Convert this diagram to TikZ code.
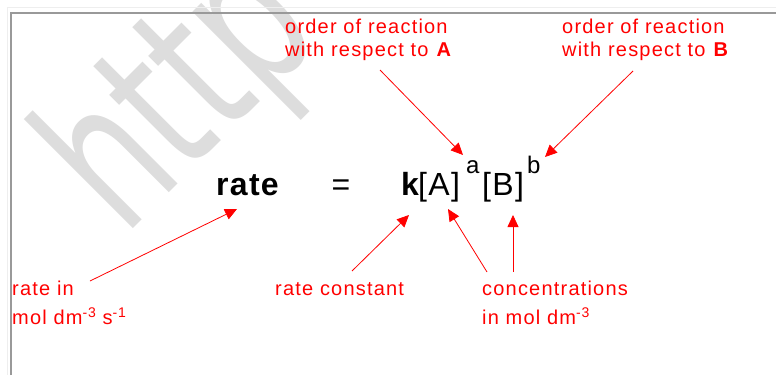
\documentclass[tikz,border=0pt]{standalone}
\usepackage{fontspec}
\setmainfont{Liberation Sans}
\newfontfamily\redfont[LetterSpace=6]{Liberation Sans}
\newfontfamily\eqfont[LetterSpace=4]{Liberation Sans}
\newfontfamily\wmfont{DejaVu Sans}
\usetikzlibrary{arrows.meta}
\definecolor{wmgray}{HTML}{DDDDDD}
\definecolor{outergray}{HTML}{EEEEEE}
\definecolor{framegray}{HTML}{999999}
\newcommand{\supx}[1]{\raisebox{7pt}{\fontsize{14}{14}\selectfont #1}}
\tikzset{
  lbl/.style={text=red, font=\redfont\fontsize{20}{24}\selectfont, inner sep=0pt, anchor=base west},
  eqtxt/.style={text=black, font=\eqfont\fontsize{32}{36}\selectfont, inner sep=0pt, anchor=base west},
  eqsup/.style={text=black, font=\eqfont\fontsize{24}{28}\selectfont, inner sep=0pt, anchor=base west},
  pointer/.style={draw=red, line width=0.8pt, -{Triangle[length=12pt,width=11pt]}},
}
\begin{document}
\begin{tikzpicture}[x=1pt,y=-1pt]
\useasboundingbox (0,0) rectangle (776,375);
\fill[white] (0,0) rectangle (776,375);
% watermark
\begin{scope}
\clip (0,0) rectangle (776,375);
\begin{scope}[shift={(124,238)}, rotate=45, xscale=0.68]
\node[transform shape, anchor=base west, inner sep=0pt, text=wmgray,
      font=\wmfont\fontsize{203}{203}\selectfont] (wm) at (0,0) {http};
\end{scope}
\end{scope}
% frame
\draw[outergray, line width=1.5pt] (7.5,375) -- (7.5,7.5) -- (776,7.5);
\draw[framegray, line width=1.3pt] (11,375) -- (11,13) -- (776,13);
% equation
\node[eqtxt, font=\eqfont\bfseries\fontsize{32}{36}\selectfont] (rate) at (216,195) {rate};
\node[eqtxt, anchor=base] (eqs) at (341,195) {=};
\node[eqtxt, font=\eqfont\bfseries\fontsize{32}{36}\selectfont] (k) at (401,195) {k};
\node[eqtxt] (A) at (418,195) {[A]};
\node[eqsup] (a) at (466,173.5) {a};
\node[eqtxt] (B) at (482,195) {[B]};
\node[eqsup] (b) at (527,173.5) {b};
% labels
\node[lbl] (ordA1) at (285,33) {order of reaction};
\node[lbl] (ordA2) at (285,56) {with respect to \textbf{A}};
\node[lbl] (ordB1) at (562,33) {order of reaction};
\node[lbl] (ordB2) at (562,56) {with respect to \textbf{B}};
\node[lbl] (rin1) at (12,295) {rate in};
\node[lbl] (rin2) at (12,324) {mol dm\supx{-3} s\supx{-1}};
\node[lbl] (rc) at (275,295) {rate constant};
\node[lbl] (conc1) at (482,295) {concentrations};
\node[lbl] (conc2) at (482,324) {in mol dm\supx{-3}};
% connector ends
\coordinate (p1s) at (90,281);   \coordinate (p1e) at (237,209);
\coordinate (p2s) at (352,271);  \coordinate (p2e) at (409,215);
\coordinate (p3s) at (487,272);  \coordinate (p3e) at (448,209);
\coordinate (p4s) at (513,272);  \coordinate (p4e) at (513,215);
\coordinate (p5s) at (380,70);   \coordinate (p5e) at (463,155);
\coordinate (p6s) at (633,71);   \coordinate (p6e) at (545,157);
\draw[pointer] (p1s) -- (p1e);
\draw[pointer] (p2s) -- (p2e);
\draw[pointer] (p3s) -- (p3e);
\draw[pointer] (p4s) -- (p4e);
\draw[pointer] (p5s) -- (p5e);
\draw[pointer] (p6s) -- (p6e);
\end{tikzpicture}
\end{document}
